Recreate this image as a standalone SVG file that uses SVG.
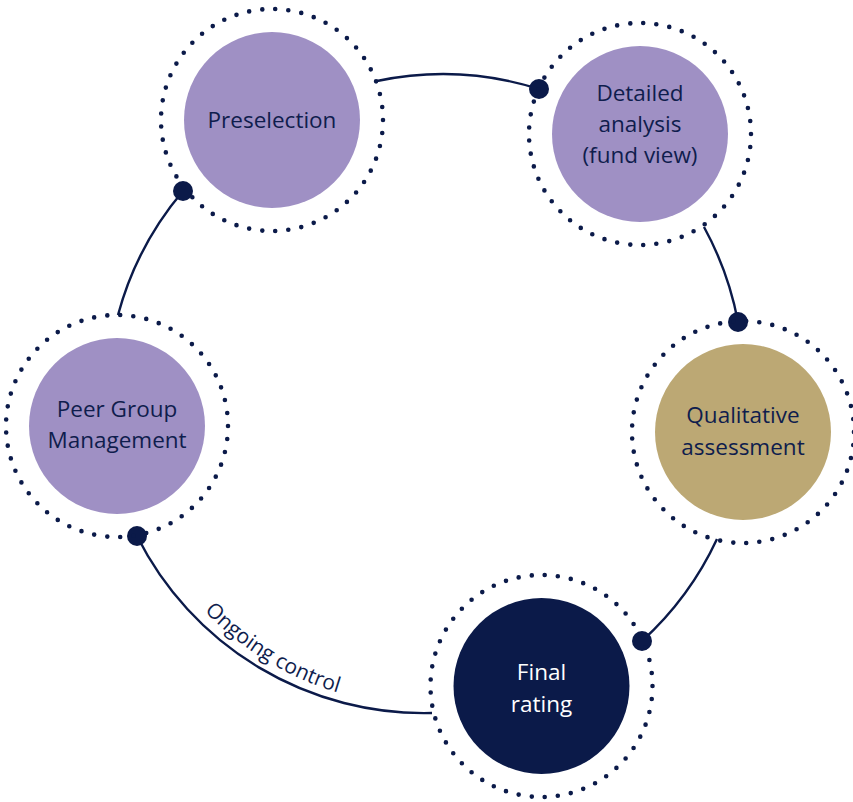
<svg xmlns="http://www.w3.org/2000/svg" width="853" height="802" viewBox="0 0 853 802">
<style>
.ring{fill:none;stroke:#0b1a49;stroke-width:4.6;stroke-linecap:round;stroke-dasharray:0 1}
.conn{fill:none;stroke:#0b1a49;stroke-width:2.4}
.dot{fill:#0b1a49}
.lbl{font-family:"Open Sans","Noto Sans",sans-serif;font-size:22.5px;font-weight:500;fill:#0f1d4d;text-anchor:middle}
.lblw{fill:#ffffff}
.purple{fill:#9f90c4}
.gold{fill:#bca874}
.navy{fill:#0b1a49}
</style>
<defs>
<path id="ongoingPath" d="M204.3,611 A311,311 0 0 0 400.9,704.8"/>
</defs>
<rect width="853" height="802" fill="#ffffff"/>
<g id="connectors">
<path class="conn" d="M377,81 A321,321 0 0 1 539,89"/>
<path class="conn" d="M704,227 A321,321 0 0 1 738,322"/>
<path class="conn" d="M717,539 A321,321 0 0 1 642,641"/>
<path class="conn" d="M432,713 A321,321 0 0 1 137,536"/>
<path class="conn" d="M118,315 A321,321 0 0 1 183,191"/>
<circle class="dot" cx="539" cy="89" r="10"/>
<circle class="dot" cx="738" cy="322" r="10"/>
<circle class="dot" cx="642" cy="641" r="10"/>
<circle class="dot" cx="137" cy="536" r="10"/>
<circle class="dot" cx="183" cy="191" r="10"/>
<text font-family="'Open Sans','Noto Sans',sans-serif" font-size="21" fill="#0f1d4d"><textPath href="#ongoingPath">Ongoing control</textPath></text>
</g>
<g id="preselection">
<circle class="ring" cx="272" cy="120" r="111" pathLength="53"/>
<circle class="purple" cx="272" cy="120" r="88"/>
<text class="lbl" x="272" y="128">Preselection</text>
</g>
<g id="detailed-analysis">
<circle class="ring" cx="640" cy="134" r="111" pathLength="53"/>
<circle class="purple" cx="640" cy="134" r="88"/>
<text class="lbl" x="640" y="101">Detailed</text>
<text class="lbl" x="640" y="132">analysis</text>
<text class="lbl" x="640" y="163">(fund view)</text>
</g>
<g id="qualitative-assessment">
<circle class="ring" cx="743" cy="432" r="111" pathLength="53"/>
<circle class="gold" cx="743" cy="432" r="88"/>
<text class="lbl" x="743" y="423">Qualitative</text>
<text class="lbl" x="743" y="455">assessment</text>
</g>
<g id="final-rating">
<circle class="ring" cx="541.5" cy="686" r="111" pathLength="53"/>
<circle class="navy" cx="541.5" cy="686" r="88"/>
<text class="lbl lblw" x="541.5" y="680">Final</text>
<text class="lbl lblw" x="541.5" y="712">rating</text>
</g>
<g id="peer-group-management">
<circle class="ring" cx="117" cy="426" r="111" pathLength="53"/>
<circle class="purple" cx="117" cy="426" r="88"/>
<text class="lbl" x="117" y="417">Peer Group</text>
<text class="lbl" x="117" y="448">Management</text>
</g>
</svg>
